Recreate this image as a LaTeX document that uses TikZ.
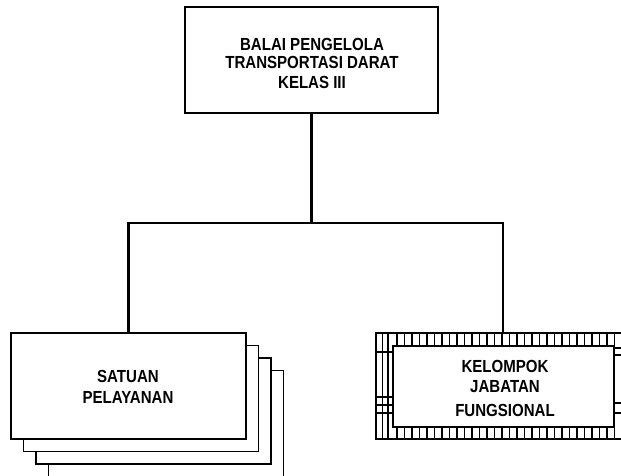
\documentclass[tikz,border=0pt]{standalone}
\usepackage{fontspec}
\setmainfont{Liberation Sans}
\newfontfamily\narrowfont[FakeStretch=0.86]{Liberation Sans}
\begin{document}
\begin{tikzpicture}[x=1pt,y=-1pt,
  box/.style={draw,line width=2pt,fill=white,inner sep=0pt,outer sep=0pt},
  txt/.style={align=center,inner sep=0pt,font=\narrowfont\fontsize{17.5}{18}\selectfont\bfseries},
  link/.style={line width=2.2pt},
  hatch/.style={line width=1.2pt}]
\useasboundingbox (0,0) rectangle (621,475);
\clip (0,0) rectangle (621,475);
% top box
\node[box, minimum width=253pt, minimum height=106pt] (top) at (311.5,60) {};
\node[txt] (toptext) at (312,63) {BALAI PENGELOLA\\TRANSPORTASI DARAT\\[2pt]KELAS III};
% satuan stack
\node[box, line width=1.8pt, minimum width=235pt, minimum height=106pt] (sat3) at (166,423.5) {};
\node[box, line width=1.8pt, minimum width=235pt, minimum height=106pt] (sat2) at (153.5,411) {};
\node[box, line width=1.8pt, minimum width=235pt, minimum height=106pt] (sat1) at (141,398.5) {};
\node[box, line width=1.8pt, minimum width=235pt, minimum height=106pt] (sat) at (128.5,386) {};
\node[txt, font=\narrowfont\fontsize{17.5}{21}\selectfont\bfseries] (sattext) at (128,387) {SATUAN\\PELAYANAN};
% kelompok
\node[box, line width=1.4pt, minimum width=254pt, minimum height=106pt] (kel) at (503,386) {};
\begin{scope}
\clip (kel.north west) rectangle (kel.south east);
\foreach \x in {397,404.5,...,625} {
  \draw[hatch] (\x,333) -- (\x,346);
  \draw[hatch] (\x,427) -- (\x,439);
}
\foreach \x in {382.5,388} \draw[hatch] (\x,333) -- (\x,439);
\foreach \y in {352,397,405,413} \draw[hatch] (376,\y) -- (393,\y);
\foreach \y in {348,355,403,413} \draw[hatch] (614,\y) -- (630,\y);
\end{scope}
\node[box, line width=2.8pt, minimum width=221pt, minimum height=81pt] (kelin) at (503.5,386.5) {};
\node[txt, font=\narrowfont\fontsize{17.5}{20}\selectfont\bfseries] (keltext) at (505,388.5) {KELOMPOK\\JABATAN\\[4pt]FUNGSIONAL};
% connectors
\coordinate (j) at (312,223);
\draw[link] (top.south) -- (top.south |- j);
\draw[link] (sat.north) -- (sat.north |- j) -- (kel.north |- j) -- (kel.north);
\end{tikzpicture}
\end{document}
